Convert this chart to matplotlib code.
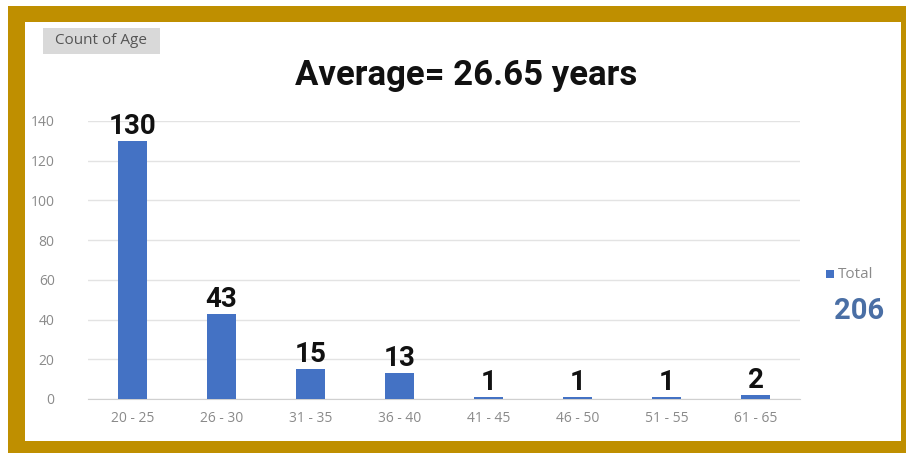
import matplotlib
matplotlib.use("Agg")
import matplotlib.pyplot as plt
from matplotlib.patches import Rectangle

categories = ["20 - 25", "26 - 30", "31 - 35", "36 - 40", "41 - 45", "46 - 50", "51 - 55", "61 - 65"]
counts = [130, 43, 15, 13, 1, 1, 1, 2]
yticks = [0, 20, 40, 60, 80, 100, 120, 140]
title = "Average= 26.65 years"
total_label = "206"

W, H = 906, 453
fig = plt.figure(figsize=(W / 100, H / 100), dpi=100)
fig.patch.set_facecolor("white")

gold = "#BF8F00"
# gold frame
fig.patches.append(Rectangle((8 / W, 0), 1 - 8 / W, 1 - 6 / H, transform=fig.transFigure,
                             facecolor=gold, edgecolor="none", zorder=-10))
fig.patches.append(Rectangle((25 / W, 12 / H), (901 - 25) / W, (441 - 22) / H, transform=fig.transFigure,
                             facecolor="white", edgecolor="none", zorder=-9))

ax = fig.add_axes([88 / W, 1 - 399 / H, (800 - 88) / W, (399 - 121) / H])
ax.set_facecolor("none")
x = list(range(len(categories)))
bar_color = "#4472C4"
bars = ax.bar(x, counts, width=0.32, color=bar_color, zorder=3)
ax.set_xlim(-0.5, len(categories) - 0.5)
ax.set_ylim(0, 140)
ax.set_yticks(yticks)
ax.set_yticklabels([str(t) for t in yticks], fontsize=10, color="#8a8a8a", family="Open Sans")
ax.set_xticks(x)
ax.set_xticklabels(categories, fontsize=10, color="#8a8a8a", family="Open Sans")
ax.tick_params(axis="both", length=0)
ax.tick_params(axis="y", pad=24)
ax.tick_params(axis="x", pad=9)
ax.grid(axis="y", color="#e3e3e3", linewidth=1, zorder=0)
for s in ["top", "right", "left"]:
    ax.spines[s].set_visible(False)
ax.spines["bottom"].set_color("#d0d0d0")

for xi, v in zip(x, counts):
    ax.text(xi, v + 0.5, str(v), ha="center", va="bottom", fontsize=20, fontweight="bold",
            family="Roboto", color="#111111")

fig.text(466 / W, 1 - 76 / H, title, ha="center", va="center", fontsize=25, fontweight="bold",
         family="Roboto", color="#111111")

fig.patches.append(Rectangle((43 / W, 1 - 54 / H), (160 - 43) / W, 26 / H, transform=fig.transFigure,
                             facecolor="#d9d9d9", edgecolor="none"))
fig.text(101 / W, 1 - 41 / H, "Count of Age", ha="center", va="center", fontsize=11,
         color="#555555", family="Open Sans")

fig.patches.append(Rectangle((826 / W, 1 - 278 / H), 8 / W, 8 / H, transform=fig.transFigure,
                             facecolor=bar_color, edgecolor="none"))
fig.text(838 / W, 1 - 274 / H, "Total", ha="left", va="center", fontsize=11, color="#8a8a8a",
         family="Open Sans")
fig.text(859 / W, 1 - 311 / H, total_label, ha="center", va="center", fontsize=21, fontweight="bold",
         color="#4A6FA5", family="Roboto")

fig.savefig("out.png", dpi=100)
